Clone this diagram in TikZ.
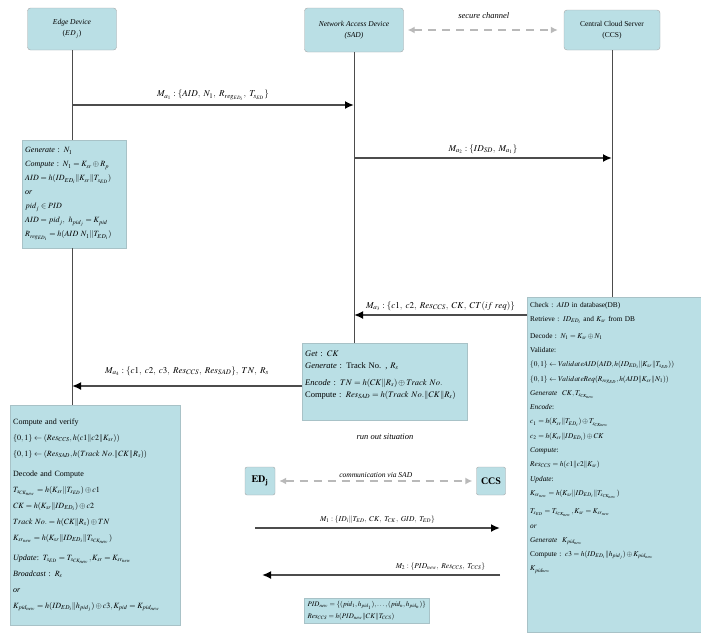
\documentclass[tikz,border=0pt]{standalone}
\usepackage{mathptmx}
\usepackage{fontspec}
\setmainfont{Liberation Serif}
\usetikzlibrary{arrows.meta}
\definecolor{boxblue}{RGB}{186,223,229}
\relpenalty=10000
\binoppenalty=10000
\tikzset{
  head/.style={rectangle, rounded corners=3pt, draw=gray!70, fill=boxblue, align=center, font=\fontsize{7.5}{11}\selectfont, minimum height=42pt},
  workbox/.style={rectangle, draw=boxblue!70!gray, fill=boxblue, align=left, anchor=north west, inner sep=3pt, font=\fontsize{8}{14}\selectfont},
  life/.style={draw=gray!60!black, line width=1pt},
  msg/.style={draw=black!70, line width=2pt, -{Latex[length=9pt,width=8pt,color=black]}},
  chan/.style={draw=gray!55, line width=2.2pt, dash pattern=on 8pt off 6pt, {Latex[length=7pt,width=7pt]}-{Latex[length=7pt,width=7pt]}},
  lbl/.style={above, font=\fontsize{9}{11}\selectfont}
}
\begin{document}
\begin{tikzpicture}[x=1pt,y=-1pt]
  \useasboundingbox (0,0) rectangle (701,635);
  % Nodes
  \node (ed) [head, minimum width=89pt] at (72,29) {\textit{Edge Device}\\($ED_j$)};
  \node (sad) [head, minimum width=99pt, minimum height=44pt] at (354,30) {\textit{Network Access Device}\\\textit{(SAD)}};
  \node (ccs) [head, minimum width=96pt, minimum height=40pt] at (612,30) {Central Cloud Server\\(CCS)};
  \node (edwork) [workbox, text width=98pt, minimum height=108pt] at (22,140) {%
    \textit{Generate} : $N_1$\\
    \textit{Compute} : $N_1 = K_{sr}\oplus R_p$\\
    $AID = h(ID_{ED_i}\|K_{sr}\|T_{s_{ED}})$\\
    \textit{or}\\
    $pid_j \in PID$\\
    $AID = pid_j,\ h_{pid_j} = K_{pid}$\\
    $R_{reg_{ED_i}} = h(AID\ N_1\|T_{ED_i})$};
  \node (sadwork) [workbox, text width=159pt, minimum height=77pt, font=\fontsize{8.5}{12}\selectfont] at (302,343) {%
    \textit{Get} : $CK$\\
    \textit{Generate} : Track No. , $R_s$\\[5pt]
    \textit{Encode} : $TN = h(CK\|R_s)\oplus Track\ No.$\\
    Compute : $Res_{SAD} = h(Track\ No.\|CK\|R_s)$\rule[-16pt]{0pt}{0pt}};
  \node (ccswork) [workbox, text width=168pt, minimum height=335pt, font=\fontsize{7.3}{14.3}\selectfont] at (527,297) {%
    Check : $AID$ in database(DB)\\
    Retrieve : $ID_{ED_i}$ and $K_{sr}$ from DB\\[2pt]
    Decode : $N_1 = K_{sr}\oplus N_1$\\
    Validate:\\
    $\{0,1\}\leftarrow ValidateAID(AID, h(ID_{ED_i}\|K_{sr}\|T_{s_{ED}}))$\\
    $\{0,1\}\leftarrow ValidateReq(R_{reg_{ED}}, h(AID\|K_{sr}\|N_1))$\\
    \textit{Generate} \ $CK, T_{s_{CK_{new}}}$\\
    \textit{Encode}:\\
    $c_1 = h(K_{sr}\|T_{ED_i})\oplus T_{s_{CK_{new}}}$\\
    $c_2 = h(K_{sr}\|ID_{ED_i})\oplus CK$\\
    \textit{Compute}:\\
    $Res_{CCS} = h(c1\|c2\|K_{sr})$\\
    \textit{Update}:\\
    $K_{sr_{new}} = h(K_{sr}\|ID_{ED_i}\|T_{s_{CK_{new}}})$\\[4pt]
    $T_{s_{ED}} = T_{s_{CK_{new}}}, K_{sr} = K_{sr_{new}}$\\
    \textit{or}\\
    \textit{Generate} \ $K_{pid_{new}}$\\
    Compute : $c3 = h(ID_{ED_i}\|h_{pid_j})\oplus K_{pid_{new}}$\\
    $K_{pid_{new}}$\rule[-56pt]{0pt}{0pt}};
  \node (edcheck) [workbox, text width=164pt, minimum height=220pt, font=\fontsize{8}{16}\selectfont] at (10,405) {%
    Compute and verify\\
    $\{0,1\}\leftarrow (Res_{CCS}, h(c1\|c2\|K_{sr}))$\\
    $\{0,1\}\leftarrow (Res_{SAD}, h(Track\ No.\|CK\|R_s))$\\[4pt]
    Decode and Compute\\
    $T_{s_{CK_{new}}} = h(K_{sr}\|T_{s_{ED}})\oplus c1$\\
    $CK = h(K_{sr}\|ID_{ED_i})\oplus c2$\\
    $Track\ No. = h(CK\|R_s)\oplus TN$\\
    $K_{sr_{new}} = h(K_{sr}\|ID_{ED_i}\|T_{s_{CK_{new}}})$\\[4pt]
    \textit{Update}: $T_{s_{ED}} = T_{s_{CK_{new}}}, K_{sr} = K_{sr_{new}}$\\
    \textit{Broadcast} : $R_s$\\
    \textit{or}\\
    $K_{pid_{new}} = h(ID_{ED_i}\|h_{pid_j})\oplus c3, K_{pid} = K_{pid_{new}}$};
  \node (runout) [font=\fontsize{8.5}{10}\selectfont] at (385,437) {\textit{run out situation}};
  \node (edj) [head, rounded corners=2pt, minimum width=30pt, minimum height=28pt, inner sep=2pt, font=\fontsize{10}{12}\selectfont] at (260,481) {$\mathbf{ED_j}$};
  \node (ccsx) [head, rounded corners=2pt, minimum width=29pt, minimum height=28pt, inner sep=2pt, font=\fontsize{10}{12}\selectfont\bfseries] at (491,481) {CCS};
  \node (pidbox) [workbox, anchor=north, text width=119pt, font=\fontsize{7}{12}\selectfont] at (367,598) {%
    $PID_{new} = \{(pid_1, h_{pid_1}),\ldots,(pid_n, h_{pid_n})\}$\\
    $Res_{CCS} = h(PID_{new}\|CK\|T_{CCS})$};
  % Points on the lifelines
  \coordinate (m1s) at (72,105);
  \coordinate (m1e) at (354,105);
  \coordinate (m2s) at (354,158);
  \coordinate (m2e) at (612,158);
  \coordinate (m3s) at (527,315);
  \coordinate (m3e) at (354,315);
  \coordinate (m4s) at (302,386);
  \coordinate (m4e) at (72,386);
  \coordinate (n1s) at (255,528);
  \coordinate (n1e) at (500,528);
  \coordinate (n2s) at (500,575);
  \coordinate (n2e) at (262,575);
  % Lifelines
  \draw[life] (ed.south) -- (ed.south |- edwork.north);
  \draw[life] (ed.south |- edwork.south) -- (ed.south |- edcheck.north);
  \draw[life] (sad.south) -- (sad.south |- sadwork.north);
  \draw[life] (ccs.south) -- (ccs.south |- ccswork.north);
  % Arrow
  \draw[chan, shorten <=4pt, shorten >=6pt] (sad) -- (ccs) node[midway, above=7pt, font=\fontsize{8.5}{10}\selectfont] {\textit{secure channel}};
  \draw[msg] (m1s) -- (m1e) node[lbl, midway] {$M_{a_1}:\{AID,\ N_1,\ R_{reg_{ED_i}},\ T_{s_{ED}}\}$};
  \draw[msg] (m2s) -- (m2e) node[lbl, midway] {$M_{a_2}:\{ID_{SD},\ M_{a_1}\}$};
  \draw[msg] (m3s) -- (m3e) node[lbl, midway] {$M_{a_3}:\{c1,\ c2,\ Res_{CCS},\ CK,\ CT(if\ req)\}$};
  \draw[msg] (m4s) -- (m4e) node[lbl, midway, above=6pt] {$M_{a_4}:\{c1,\ c2,\ c3,\ Res_{CCS},\ Res_{SAD}\},\ TN,\ R_s$};
  \draw[chan, shorten <=4pt, shorten >=4pt] (edj) -- (ccsx) node[midway, above=-1pt, font=\fontsize{7.5}{9}\selectfont] {\textit{communication via SAD}};
  \draw[msg] (n1s) -- (n1e) node[lbl, midway, font=\fontsize{7.5}{9}\selectfont] {$M_1:\{ID_i\|T_{ED},\ CK,\ T_{CK},\ GID,\ T_{ED}\}$};
  \draw[msg] (n2s) -- (n2e) node[lbl, pos=0.25, font=\fontsize{7.5}{9}\selectfont] {$M_2:\{PID_{new},\ Res_{CCS},\ T_{CCS}\}$};
\end{tikzpicture}
\end{document}
